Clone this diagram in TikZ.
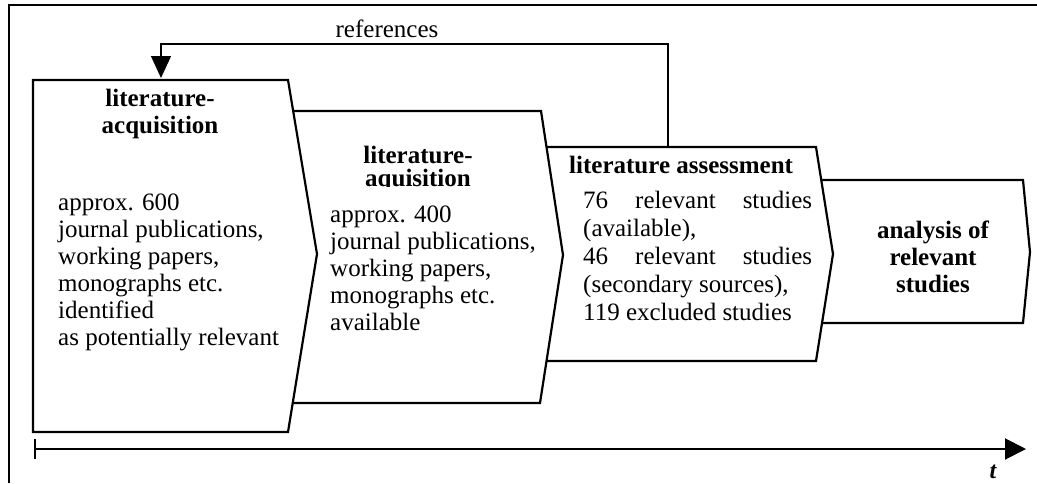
\documentclass[tikz,border=0pt]{standalone}
\usepackage{fontspec}
\setmainfont{Liberation Serif}
\usetikzlibrary{arrows.meta}
\begin{document}
\begin{tikzpicture}[x=1pt,y=-1pt,
  stage/.style={draw=black, fill=white, line width=2.2pt, line join=miter},
  heading/.style={font=\fontsize{25}{27}\selectfont\bfseries, inner sep=0pt, anchor=base},
  bodyline/.style={font=\fontsize{25}{27}\selectfont, inner sep=0pt, anchor=base west},
]
\useasboundingbox (0,0) rectangle (1037,483);

% outer frame (top and left edges only)
\draw[line width=1.5pt] (9,483) -- (9,5) -- (1037,5);

% process stages, drawn back to front so each overlaps the next one
\draw[stage] (800,180) -- (1023,180) -- (1030,252) -- (1023,323) -- (800,323) -- cycle;
\draw[stage] (530,147) -- (816,147) -- (833,254) -- (816,361) -- (530,361) -- cycle;
\draw[stage] (280,111) -- (541,111) -- (563,255) -- (540,403) -- (280,403) -- cycle;
\draw[stage] (33,80) -- (288,80) -- (317,254) -- (288,432) -- (33,432) -- cycle;

% stage 1
\node[heading] (h1a) at (160,106) {literature-};
\node[heading] (h1b) at (160,133) {acquisition};
\foreach \txt [count=\i] in {{approx. 600},{journal publications,},{working papers,},{monographs etc.},{identified},{as potentially relevant}}
  \node[bodyline] (b1-\i) at (58,{210+27*(\i-1)}) {\txt};

% stage 2 (second heading line is cut off by its frame)
\begin{scope}
  \clip (300,120) rectangle (540,186.5);
  \node[heading] (h2a) at (418,163) {literature-};
  \node[heading] (h2b) at (418,186) {aquisition};
\end{scope}
\foreach \txt [count=\i] in {{approx. 400},{journal publications,},{working papers,},{monographs etc.},{available}}
  \node[bodyline] (b2-\i) at (330,{222+27*(\i-1)}) {\txt};

% stage 3
\node[heading, anchor=base west] (h3) at (569,173) {literature assessment};
\foreach \txt [count=\i] in {{\makebox[229pt][s]{76 relevant studies}},{(available),},{\makebox[229pt][s]{46 relevant studies}},{(secondary sources),},{119 excluded studies}}
  \node[bodyline] (b3-\i) at (583,{208+28*(\i-1)}) {\txt};

% stage 4
\node[heading] (h4a) at (933,238) {analysis of};
\node[heading] (h4b) at (933,265) {relevant};
\node[heading] (h4c) at (933,292) {studies};

% feedback of references from the assessment back to the acquisition
\coordinate (fbstart) at (668,147);
\coordinate (fbcorner) at (161,44);
\coordinate (fbend) at (161,78);
\draw[line width=1.4pt, -{Triangle[width=20pt,length=22pt]}] (fbstart) |- (fbcorner) -- (fbend);
\node[font=\fontsize{25}{27}\selectfont, inner sep=0pt, anchor=base] (fblabel) at (387,37) {references};

% time axis
\coordinate (tstart) at (34,449);
\coordinate (tend) at (1026,449);
\draw[line width=2pt, {Bar[width=20pt,line width=1.5pt]}-{Triangle[width=21pt,length=21pt]}] (tstart) -- (tend);
\node[font=\fontsize{24}{26}\selectfont\bfseries\itshape, inner sep=0pt, anchor=base] (tlabel) at (993,478) {t};
\end{tikzpicture}
\end{document}
